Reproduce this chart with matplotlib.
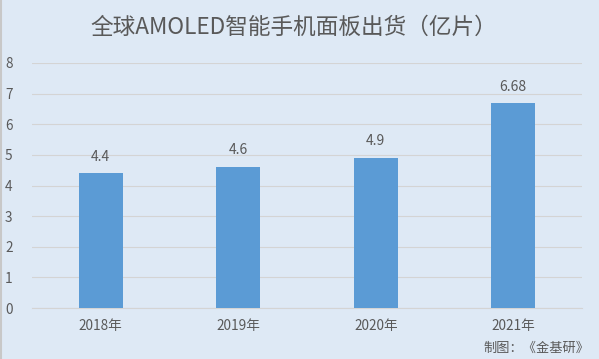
import matplotlib
matplotlib.use("Agg")
import matplotlib.pyplot as plt
from matplotlib.lines import Line2D

plt.rcParams['font.family'] = ['Noto Sans CJK SC', 'DejaVu Sans']

years = ["2018年", "2019年", "2020年", "2021年"]
shipments = [4.4, 4.6, 4.9, 6.68]
value_labels = ["4.4", "4.6", "4.9", "6.68"]
y_ticks = [0, 1, 2, 3, 4, 5, 6, 7, 8]

bg = "#dee9f5"
bar_color = "#5b9bd5"
text_color = "#595959"
grid_color = "#d4d4d4"

fig = plt.figure(figsize=(5.99, 3.59), dpi=100, facecolor=bg)
ax = fig.add_axes([32 / 599, 51 / 359, 550 / 599, 245 / 359], facecolor=bg)

x = range(len(years))
bars = ax.bar(x, shipments, width=0.32, color=bar_color, zorder=3)

for b, lab in zip(bars, value_labels):
    ax.annotate(lab, (b.get_x() + b.get_width() / 2, b.get_height()),
                xytext=(0, 7), textcoords="offset points",
                ha="center", va="bottom", fontsize=10, color=text_color)

ax.set_xlim(-0.5, len(years) - 0.5)
ax.set_ylim(0, 8)
ax.set_yticks(y_ticks)
ax.set_xticks(list(x))
ax.set_xticklabels(years)
ax.tick_params(axis="both", length=0, labelsize=9.8, labelcolor=text_color)
ax.tick_params(axis="y", pad=14)
ax.tick_params(axis="x", pad=8)
ax.grid(axis="y", color=grid_color, linewidth=0.8, zorder=0)
for s in ["left", "right", "top"]:
    ax.spines[s].set_visible(False)
ax.spines["bottom"].set_color(grid_color)
ax.spines["bottom"].set_linewidth(0.8)

fig.text(294 / 599, 1 - 27 / 359, "全球AMOLED智能手机面板出货（亿片）",
         ha="center", va="center", fontsize=16.3, color=text_color)
fig.text(589 / 599, 1 - 348 / 359, "制图：《金基研》",
         ha="right", va="center", fontsize=9.5, color=text_color)

fig.add_artist(Line2D([0.5 / 599, 0.5 / 599], [0, 1], color="#c8c8c8",
                      linewidth=1.5, transform=fig.transFigure))

fig.savefig("out.png", dpi=100, facecolor=bg)
